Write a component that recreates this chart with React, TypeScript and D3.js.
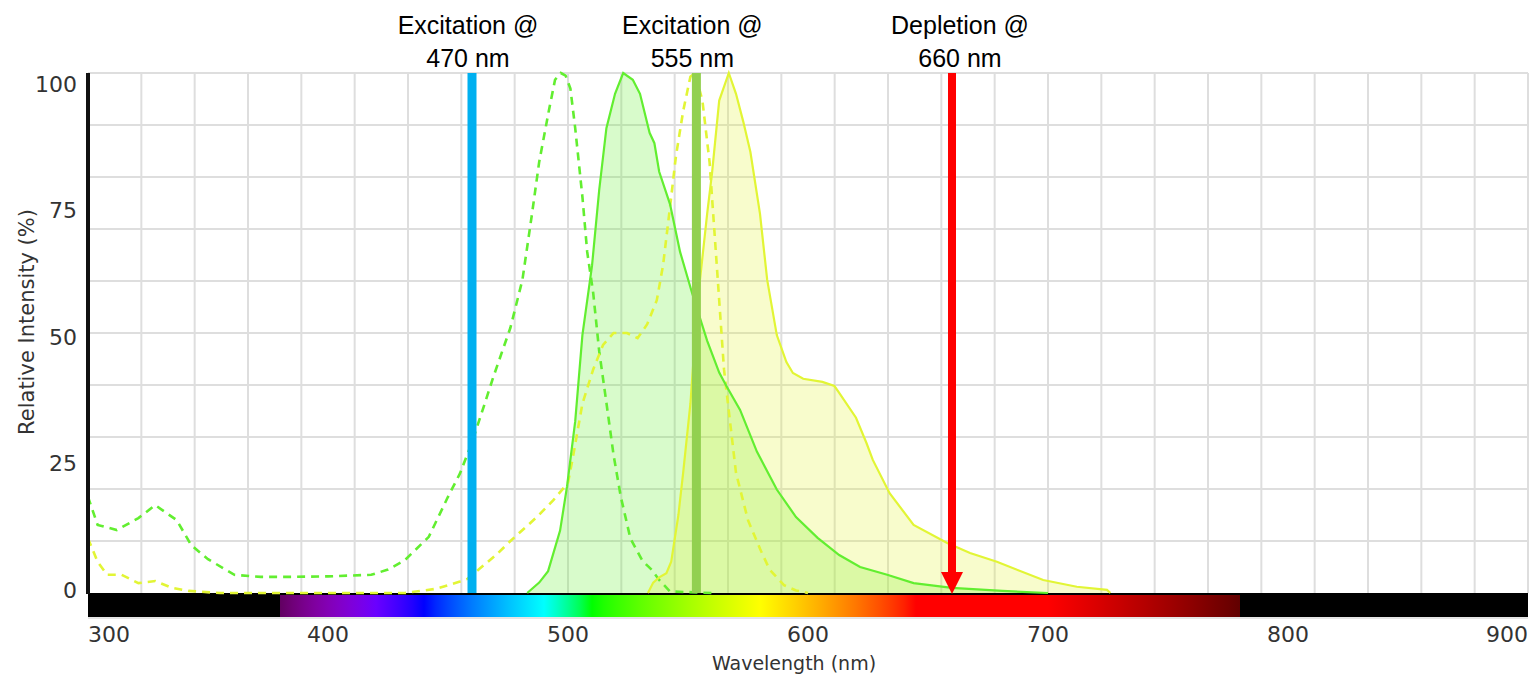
import React from 'react';
import * as d3 from 'd3';

const W = 1530;
const H = 676;

// ---- data ----
const xTicks = [300, 400, 500, 600, 700, 800, 900];
const yTicks = [0, 25, 50, 75, 100];

// green dye excitation (dashed)
const excGreen: [number, number][] = [
  [300, 18.5], [304, 13.1], [312, 12.1], [321, 14.4], [328, 16.9], [337, 14], [343, 9.2],
  [350, 6.5], [361, 3.5], [372, 3.1], [383, 3.1], [400, 3.2], [418, 3.5], [425, 4.5],
  [432, 6.3], [442, 10.8], [450, 18.5], [455, 23], [460, 29], [465, 36], [469, 41.7],
  [476, 51], [481, 60.2], [485, 72.9], [488, 82.9], [492, 92.7], [494.6, 98.7], [497, 100],
  [499, 99.5], [501, 97], [503, 89.4], [506, 76.2], [508, 65.6], [510.5, 57.7], [513, 46.5],
  [516, 36.6], [519, 26.5], [522, 18.5], [526, 10.5], [531, 6.2], [535, 4.4], [538, 2.5],
  [542.5, 0.3], [560, 0],
];

// yellow dye excitation (dashed)
const excYellow: [number, number][] = [
  [300, 10.5], [304, 6], [308, 3.5], [314, 3.5], [321, 1.9], [328, 2.3], [335, 1], [342, 0.4],
  [355, 0], [432, 0], [445, 0.8], [450, 1.5], [455, 2.2], [458, 2.7], [463, 4.6], [470, 7.3],
  [476, 10], [487, 14.6], [494, 17.9], [500, 21.2], [502, 26], [506, 36.4], [510.5, 43],
  [514.6, 47.7], [519, 50], [524.6, 50], [529, 49], [533, 51.7], [537, 56.3], [539.6, 63],
  [542.5, 74.2], [545, 84.1], [548, 92.7], [551, 99.3], [553, 100], [556, 94.7], [559, 82.8],
  [561, 69.6], [563, 56.3], [565, 43], [567.5, 33], [570, 23.1], [575, 14], [580, 8.5],
  [584, 4.5], [590, 1.5], [595, 0.5], [600, 0],
];

// green dye emission (solid, filled)
const emGreen: [number, number][] = [
  [483, 0], [488, 2], [491.7, 4.2], [496.7, 12], [499.6, 20.5], [503, 33], [506, 49.6],
  [510, 62.9], [513, 77.5], [516, 89.4], [519.6, 96], [523, 100], [527, 98.7], [530, 96],
  [534, 88.5], [536, 86.5], [538, 81], [542.5, 74.8], [546.7, 65.6], [551.7, 57.7],
  [558, 48.5], [563, 42.4], [566, 39.8], [571.7, 35.2], [578.7, 27.2], [587, 19.9],
  [595, 14.6], [604, 10.6], [613, 7.3], [621.7, 5], [633, 3.5], [644, 1.9], [660, 1],
  [681, 0.4], [700, 0],
];

// yellow dye emission (solid, filled)
const emYellow: [number, number][] = [
  [533.3, 0], [535.5, 2], [538, 3], [541, 3.8], [543, 6], [544, 9], [546, 15], [548, 23.2],
  [551, 36.4], [554, 56], [558, 73], [560, 80.7], [563, 94.7], [567, 100], [570, 96],
  [573, 90.7], [576, 84.8], [580, 72.9], [583, 60.2], [587, 49.6], [591, 44.4],
  [593.7, 42.3], [598, 41.2], [606, 40.6], [611, 39.8], [613, 38.5], [620, 33.7],
  [624.4, 28.8], [627, 25.6], [634, 19.2], [644, 13.1], [658, 9.6], [667.5, 7.7],
  [678.7, 6], [698, 2.5], [712, 1.2], [724.6, 0.6], [726, 0],
];

// laser markers: wavelength position on the axis and caption lines
const markerLambda = [460, 553.5, 660];
const markerTop = ['Excitation @', 'Excitation @', 'Depletion @'];
const markerBottom = ['470 nm', '555 nm', '660 nm'];
const markerIsArrow = [false, false, true];

// visible spectrum bar range (nm)
const spectrumStart = 380;
const spectrumEnd = 780;

// ---- style ----
const markerColors = ['#00b0f0', '#92d050', '#ff0000'];
const markerDx = [-4, -4, 8];
const GREEN = '#62ee30';
const YELLOW = '#e2f535';

const PLOT = { left: 88, right: 1528, top: 73, bottom: 593 };

function wavelengthColor(w: number): string {
  let r = 0, g = 0, b = 0;
  if (w < 440) { r = -(w - 440) / 60; b = 1; }
  else if (w < 490) { g = (w - 440) / 50; b = 1; }
  else if (w < 510) { g = 1; b = -(w - 510) / 20; }
  else if (w < 580) { r = (w - 510) / 70; g = 1; }
  else if (w < 645) { r = 1; g = -(w - 645) / 65; }
  else { r = 1; }
  let f = 1;
  if (w < 420) f = 0.3 + 0.7 * (w - 380) / 40;
  else if (w > 700) f = 0.3 + 0.7 * (780 - w) / 80;
  const adj = (c: number) => (c === 0 ? 0 : Math.round(255 * Math.pow(c * f, 0.8)));
  return `rgb(${adj(r)},${adj(g)},${adj(b)})`;
}

export default function App() {
  const x = d3.scaleLinear().domain([300, 900]).range([PLOT.left, PLOT.right]);
  const y = d3.scaleLinear().domain([0, 100]).range([PLOT.bottom, PLOT.top]);
  const yLab = d3.scaleLinear().domain([0, 100]).range([590, 84]);

  const gridX = d3.scaleLinear().domain([0, 27]).range([PLOT.left, PLOT.right]);
  const gridY = d3.scaleLinear().domain([0, 10]).range([PLOT.bottom, PLOT.top]);

  const line = d3.line<[number, number]>().x(d => x(d[0])).y(d => y(d[1]));
  const area = d3.area<[number, number]>().x(d => x(d[0])).y0(y(0)).y1(d => y(d[1]));

  const stops = d3.range(spectrumStart, spectrumEnd + 0.1, 5);

  return (
    <svg width={W} height={H} style={{ position: 'absolute', left: 0, top: 0, background: '#fff' }}>
      <defs>
        <linearGradient id="spec" x1={x(spectrumStart)} x2={x(spectrumEnd)} y1={0} y2={0} gradientUnits="userSpaceOnUse">
          {stops.map(w => (
            <stop key={w} offset={(w - spectrumStart) / (spectrumEnd - spectrumStart)} stopColor={wavelengthColor(w)} />
          ))}
        </linearGradient>
      </defs>

      {/* grid */}
      <g stroke="#dedede" strokeWidth={2}>
        {d3.range(1, 28).map(k => (
          <line key={'gx' + k} x1={gridX(k)} x2={gridX(k)} y1={PLOT.top} y2={PLOT.bottom} />
        ))}
        {d3.range(1, 11).map(k => (
          <line key={'gy' + k} x1={PLOT.left} x2={PLOT.right} y1={gridY(k)} y2={gridY(k)} />
        ))}
      </g>

      {/* emission fills */}
      <path d={area(emGreen) || ''} fill={GREEN} fillOpacity={0.25} />
      <path d={area(emYellow) || ''} fill={YELLOW} fillOpacity={0.25} />

      {/* spectrum bar */}
      <rect x={PLOT.left} y={PLOT.bottom} width={PLOT.right - PLOT.left} height={24} fill="#000" />
      <rect x={x(spectrumStart)} y={PLOT.bottom + 2} width={x(spectrumEnd) - x(spectrumStart)} height={22} fill="url(#spec)" />
      <line x1={PLOT.left} x2={PLOT.right} y1={PLOT.bottom + 25} y2={PLOT.bottom + 25} stroke="#ccc" strokeWidth={1} />

      {/* curves */}
      <path d={line(excGreen) || ''} fill="none" stroke={GREEN} strokeWidth={2.6} strokeDasharray="8 6" />
      <path d={line(excYellow) || ''} fill="none" stroke={YELLOW} strokeWidth={2.6} strokeDasharray="8 6" />
      <path d={line(emYellow) || ''} fill="none" stroke={YELLOW} strokeWidth={2.2} />
      <path d={line(emGreen) || ''} fill="none" stroke={GREEN} strokeWidth={2.2} />

      {/* y axis line */}
      <line x1={PLOT.left} x2={PLOT.left} y1={PLOT.top} y2={PLOT.bottom + 1} stroke="#111" strokeWidth={4} />

      {/* tick labels */}
      <g fontFamily="DejaVu Sans" fontSize={22} fill="#333">
        {yTicks.map(t => (
          <text key={'yt' + t} x={77} y={yLab(t)} dy="0.36em" textAnchor="end">{t}</text>
        ))}
        {xTicks.map((t, i) => (
          <text key={'xt' + t} x={x(t)} y={642} textAnchor={i === 0 ? 'start' : i === xTicks.length - 1 ? 'end' : 'middle'}>{t}</text>
        ))}
      </g>
      <text x={794} y={670} textAnchor="middle" fontFamily="DejaVu Sans" fontSize={19} fill="#333">Wavelength (nm)</text>
      <text transform="translate(34,322) rotate(-90)" textAnchor="middle" fontFamily="DejaVu Sans" fontSize={21} fill="#333">Relative Intensity (%)</text>

      {/* markers */}
      {markerLambda.map((l, i) => {
        const mx = x(l);
        const col = markerColors[i];
        return (
          <g key={'m' + i}>
            {markerIsArrow[i] ? (
              <>
                <line x1={mx} x2={mx} y1={PLOT.top} y2={y(0) - 18} stroke={col} strokeWidth={8} />
                <path d={`M${mx - 11},${y(0) - 21}L${mx + 11},${y(0) - 21}L${mx},${y(0) + 1}Z`} fill={col} />
              </>
            ) : (
              <line x1={mx} x2={mx} y1={PLOT.top} y2={y(0)} stroke={col} strokeWidth={9} />
            )}
            <text x={mx + markerDx[i]} y={34} textAnchor="middle" fontFamily="Liberation Sans" fontSize={25} fill="#000">{markerTop[i]}</text>
            <text x={mx + markerDx[i]} y={67} textAnchor="middle" fontFamily="Liberation Sans" fontSize={25} fill="#000">{markerBottom[i]}</text>
          </g>
        );
      })}
    </svg>
  );
}
